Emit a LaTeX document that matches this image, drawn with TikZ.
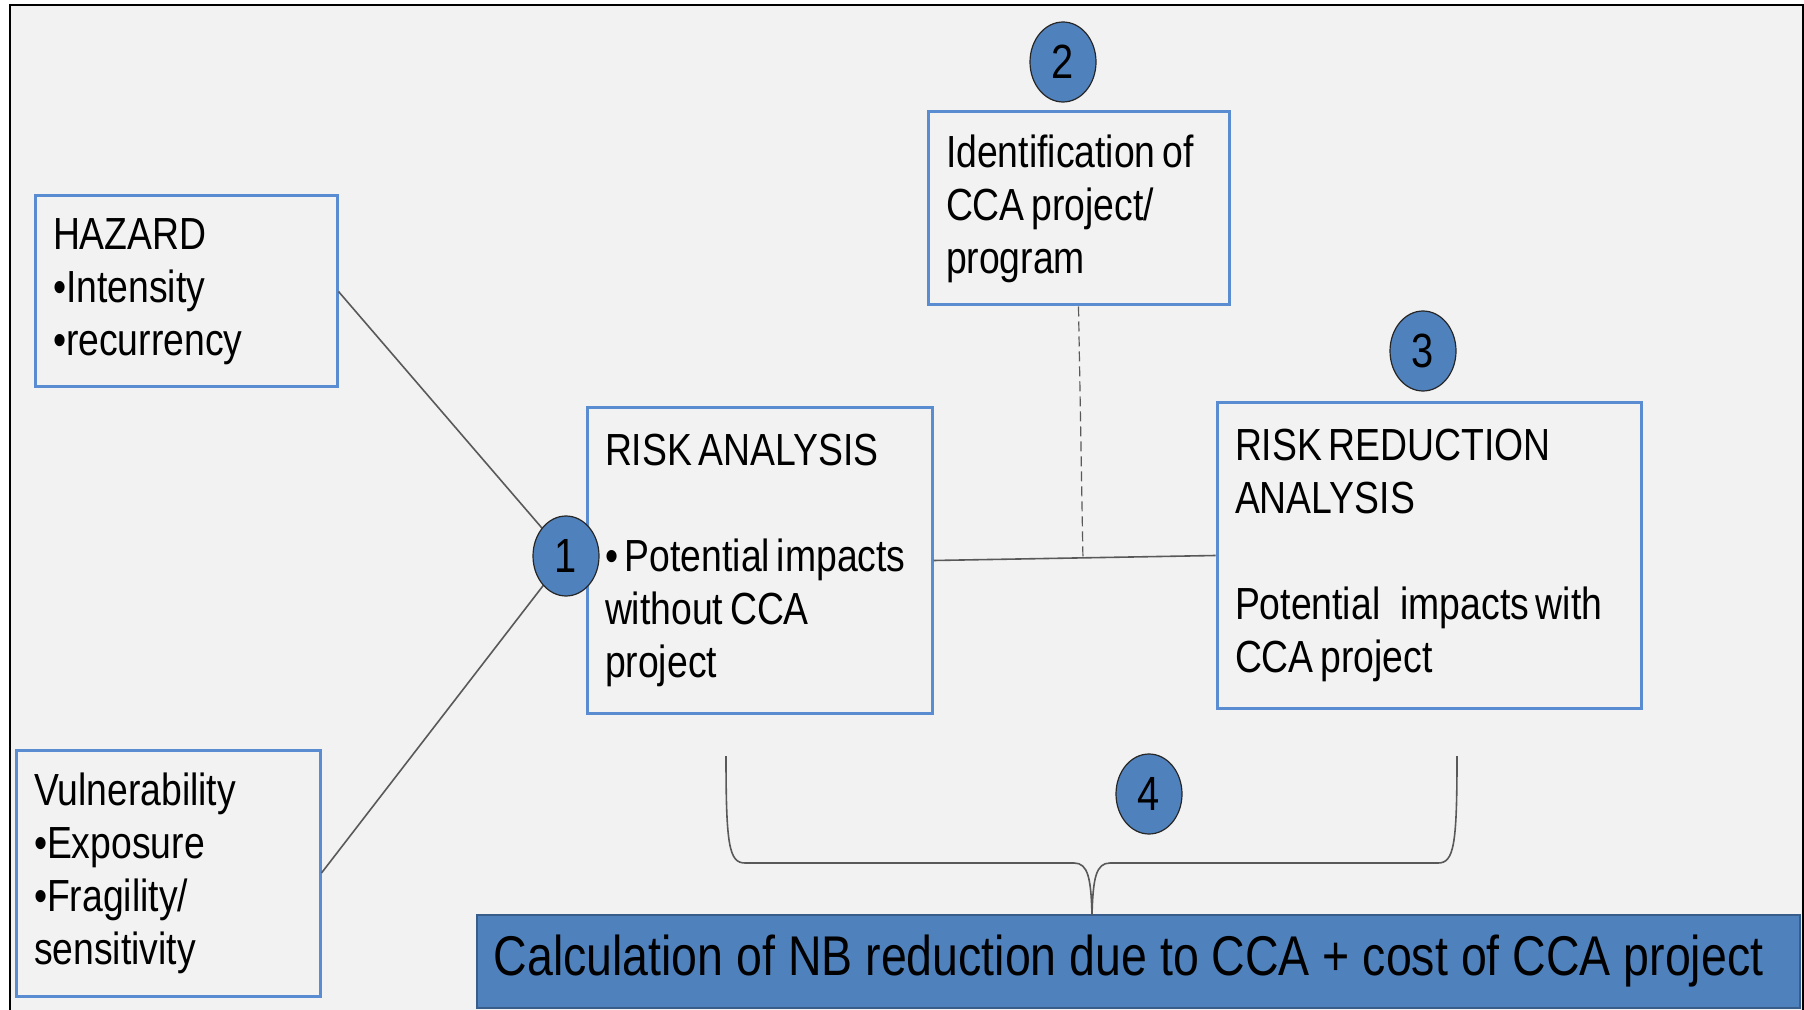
\documentclass[tikz,border=0pt]{standalone}
\usepackage{fontspec}
\setmainfont{Liberation Sans}[FakeStretch=0.83]
\usetikzlibrary{shapes.geometric,calc}

\definecolor{pagegray}{HTML}{F2F2F2}
\definecolor{boxline}{HTML}{5A8CD2}
\definecolor{stepblue}{HTML}{4F81BD}
\definecolor{nbline}{HTML}{385D8A}
\definecolor{linkgray}{HTML}{595959}

\newcommand\boxfont{\fontsize{22.5}{26.5}\selectfont\hyphenpenalty=10000\relax}
\newcommand\ws{\hspace{0.15em}} % narrow word space as in the slide

\tikzset{
  box/.style={draw=boxline, line width=1.5pt, fill=pagegray, align=left, inner xsep=9pt, font=\boxfont},
  num/.style={ellipse, draw=black!85, line width=0.6pt, fill=stepblue, minimum width=33pt,
    minimum height=40pt, inner sep=0pt, font=\fontsize{24}{24}\selectfont},
  link/.style={draw=linkgray, line width=0.8pt}
}

\begin{document}
\begin{tikzpicture}[x=0.5pt,y=-0.5pt] % one unit = one pixel of the frame
\useasboundingbox (0,0) rectangle (1804,1010);
\filldraw[fill=pagegray, draw=black, line width=0.6pt] (10,5) rectangle (1803,1040); % frame

\node[box, text width=133pt, minimum height=95.5pt] (haz) at (186,291.5) {HAZARD\\•Intensity\\•recurrency};
\node[box, text width=134pt, minimum height=123pt] (vul) at (168,873) {Vulnerability\\•Exposure\\•Fragility/\\sensitivity};
\node[box, text width=154.5pt, minimum height=152.5pt] (ra) at (759.5,560.5) {RISK\ws ANALYSIS\\\mbox{}\\\mbox{•\ws Potential\ws impacts}\\without\ws CCA\\project};
\node[box, text width=132.5pt, minimum height=96.5pt] (idp) at (1078.5,208.5) {Identification\ws of\\CCA\ws project/\\program};
\node[box, text width=194pt, minimum height=152.5pt] (rr) at (1429,555.5) {RISK\ws REDUCTION\\ANALYSIS\\\mbox{}\\\mbox{Potential\ws\ws\ws impacts\ws with}\\CCA\ws project};

\node[draw=nbline, fill=stepblue, line width=1pt, minimum width=661.5pt, minimum height=46.5pt,
  font=\fontsize{28}{28}\selectfont] (nb) at (1138.5,961.5) {Calculation of NB reduction due to CCA + cost of CCA project\hspace{10pt}\null};

% connectors
\draw[link] (haz.east) -- (566,556);
\draw[link] (vul.east) -- (566,556);
\draw[link] (ra.east) -- (rr.west);
\draw[link, line width=0.6pt, dash pattern=on 5pt off 2.5pt] (idp.south) -- ($(ra.east)!(idp.south)!(rr.west)$);

% brace
\coordinate (bl) at (726,756);
\coordinate (br) at (1457,756);
\coordinate (tip) at (1092,915);
\draw[link] (bl) .. controls (726,845) and (729,863) .. (745,863) -- (1074,863)
  .. controls (1088,863) and (1091,878) .. (tip);
\draw[link] (br) .. controls (1457,845) and (1454,863) .. (1438,863) -- (1110,863)
  .. controls (1096,863) and (1093,878) .. (tip);

\node[num] (c1) at (566,556) {1};
\node[num] (c2) at (1063,62) {2};
\node[num] (c3) at (1423,351) {3};
\node[num] (c4) at (1149,794) {4};
\end{tikzpicture}
\end{document}
